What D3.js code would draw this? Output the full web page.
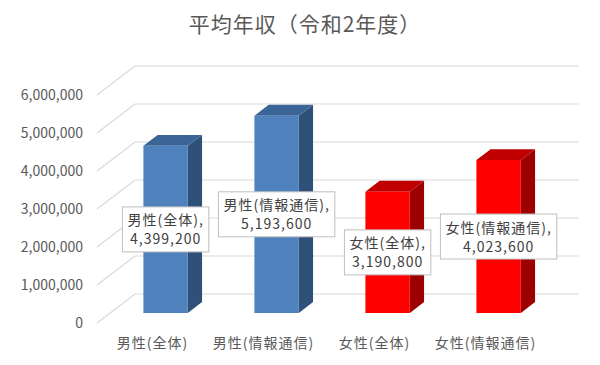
<!DOCTYPE html>
<html lang="ja">
<head>
<meta charset="UTF-8">
<title>平均年収(令和2年度)</title>
<script src="https://d3js.org/d3.v7.min.js"></script>
<style>
    body { margin: 0; padding: 0; background: #fff; }
    svg { display: block; font-family: "Noto Sans CJK JP", sans-serif; }
    .grid { stroke: #d9d9d9; stroke-width: 1.2px; fill: none; }
    .axis-label { font-size: 14px; fill: #595959; }
    .cat-label { font-size: 14px; fill: #595959; letter-spacing: 1px; }
    .title { font-size: 21px; fill: #595959; }
    .data-box { fill: #fff; stroke: #bfbfbf; stroke-width: 1px; }
    .data-text { font-size: 14px; fill: #404040; letter-spacing: 1px; }
</style>
</head>
<body>
<svg width="600" height="365"></svg>
<script>
// データ
const categories = ["男性(全体)", "男性(情報通信)", "女性(全体)", "女性(情報通信)"];
const values = [4399200, 5193600, 3190800, 4023600];
const yTicks = [0, 1000000, 2000000, 3000000, 4000000, 5000000, 6000000];
const colors = [
    { front: "#4f81bd", top: "#3c6597", side: "#2f5078" },
    { front: "#4f81bd", top: "#3c6597", side: "#2f5078" },
    { front: "#ff0000", top: "#c00000", side: "#9c0000" },
    { front: "#ff0000", top: "#c00000", side: "#9c0000" }
];

const svg = d3.select("svg");

// 奥行き方向のずれ (擬似3D)
const depthX = 38, depthY = -29;
const dFront = 0.345, dBack = 0.72;

const x = d3.scaleBand().domain(categories).range([97, 541]).paddingInner(0.6).paddingOuter(0.3);
const y = d3.scaleLinear().domain([0, 6000000]).range([323, 95]);
const fmt = d3.format(",");

// 投影
function proj(px, py, d) {
    return [px + depthX * d, py + depthY * d];
}

// タイトル
svg.append("text")
    .attr("class", "title")
    .attr("x", 305)
    .attr("y", 32)
    .attr("text-anchor", "middle")
    .style("letter-spacing", "1px")
    .text("平均年収（令和2年度）");

// 目盛線 (左壁と奥の壁)
const grid = svg.append("g");
yTicks.forEach(t => {
    const yy = y(t);
    const a = proj(97, yy, 0), b = proj(97, yy, 1), c = proj(541, yy, 1);
    grid.append("path")
        .attr("class", "grid")
        .attr("d", `M${a[0]},${a[1]}L${b[0]},${b[1]}L${c[0]},${c[1]}`);
});

// Y軸ラベル
svg.append("g").selectAll("text")
    .data(yTicks)
    .join("text")
    .attr("class", "axis-label")
    .attr("x", 83)
    .attr("y", d => y(d))
    .attr("dy", "0.35em")
    .attr("text-anchor", "end")
    .text(d => fmt(d));

// 棒 (前面・上面・側面)
const bars = svg.append("g");
categories.forEach((cat, i) => {
    const x0 = x(cat), x1 = x(cat) + x.bandwidth();
    const yTop = y(values[i]), yBot = y(0);
    const f = [proj(x0, yTop, dFront), proj(x1, yTop, dFront), proj(x1, yBot, dFront), proj(x0, yBot, dFront)];
    const t = [proj(x0, yTop, dFront), proj(x0, yTop, dBack), proj(x1, yTop, dBack), proj(x1, yTop, dFront)];
    const s = [proj(x1, yTop, dFront), proj(x1, yTop, dBack), proj(x1, yBot, dBack), proj(x1, yBot, dFront)];
    const c = colors[i];
    bars.append("polygon").attr("points", s.join(" ")).attr("fill", c.side);
    bars.append("polygon").attr("points", t.join(" ")).attr("fill", c.top);
    bars.append("polygon").attr("points", f.join(" ")).attr("fill", c.front);
});

// カテゴリラベル
svg.append("g").selectAll("text")
    .data(categories)
    .join("text")
    .attr("class", "cat-label")
    .attr("x", d => x(d) + x.bandwidth() / 2)
    .attr("y", 343)
    .attr("dy", "0.35em")
    .attr("text-anchor", "middle")
    .text(d => d);

// データラベル
const labels = svg.append("g");
categories.forEach((cat, i) => {
    const cx = x(cat) + x.bandwidth() / 2 + depthX * dFront;
    const cy = (y(values[i]) + y(0)) / 2 + depthY * dFront;
    const g = labels.append("g");
    const box = g.append("rect").attr("class", "data-box");
    const txt = g.append("text")
        .attr("class", "data-text")
        .attr("text-anchor", "middle");
    txt.append("tspan").attr("x", cx).attr("y", cy - 4).text(cat + ",");
    txt.append("tspan").attr("x", cx).attr("y", cy + 15).text(fmt(values[i]));
    const bb = txt.node().getBBox();
    const w = bb.width + 10, h = 45;
    box.attr("x", cx - w / 2).attr("y", cy - h / 2).attr("width", w).attr("height", h);
});
</script>
</body>
</html>
